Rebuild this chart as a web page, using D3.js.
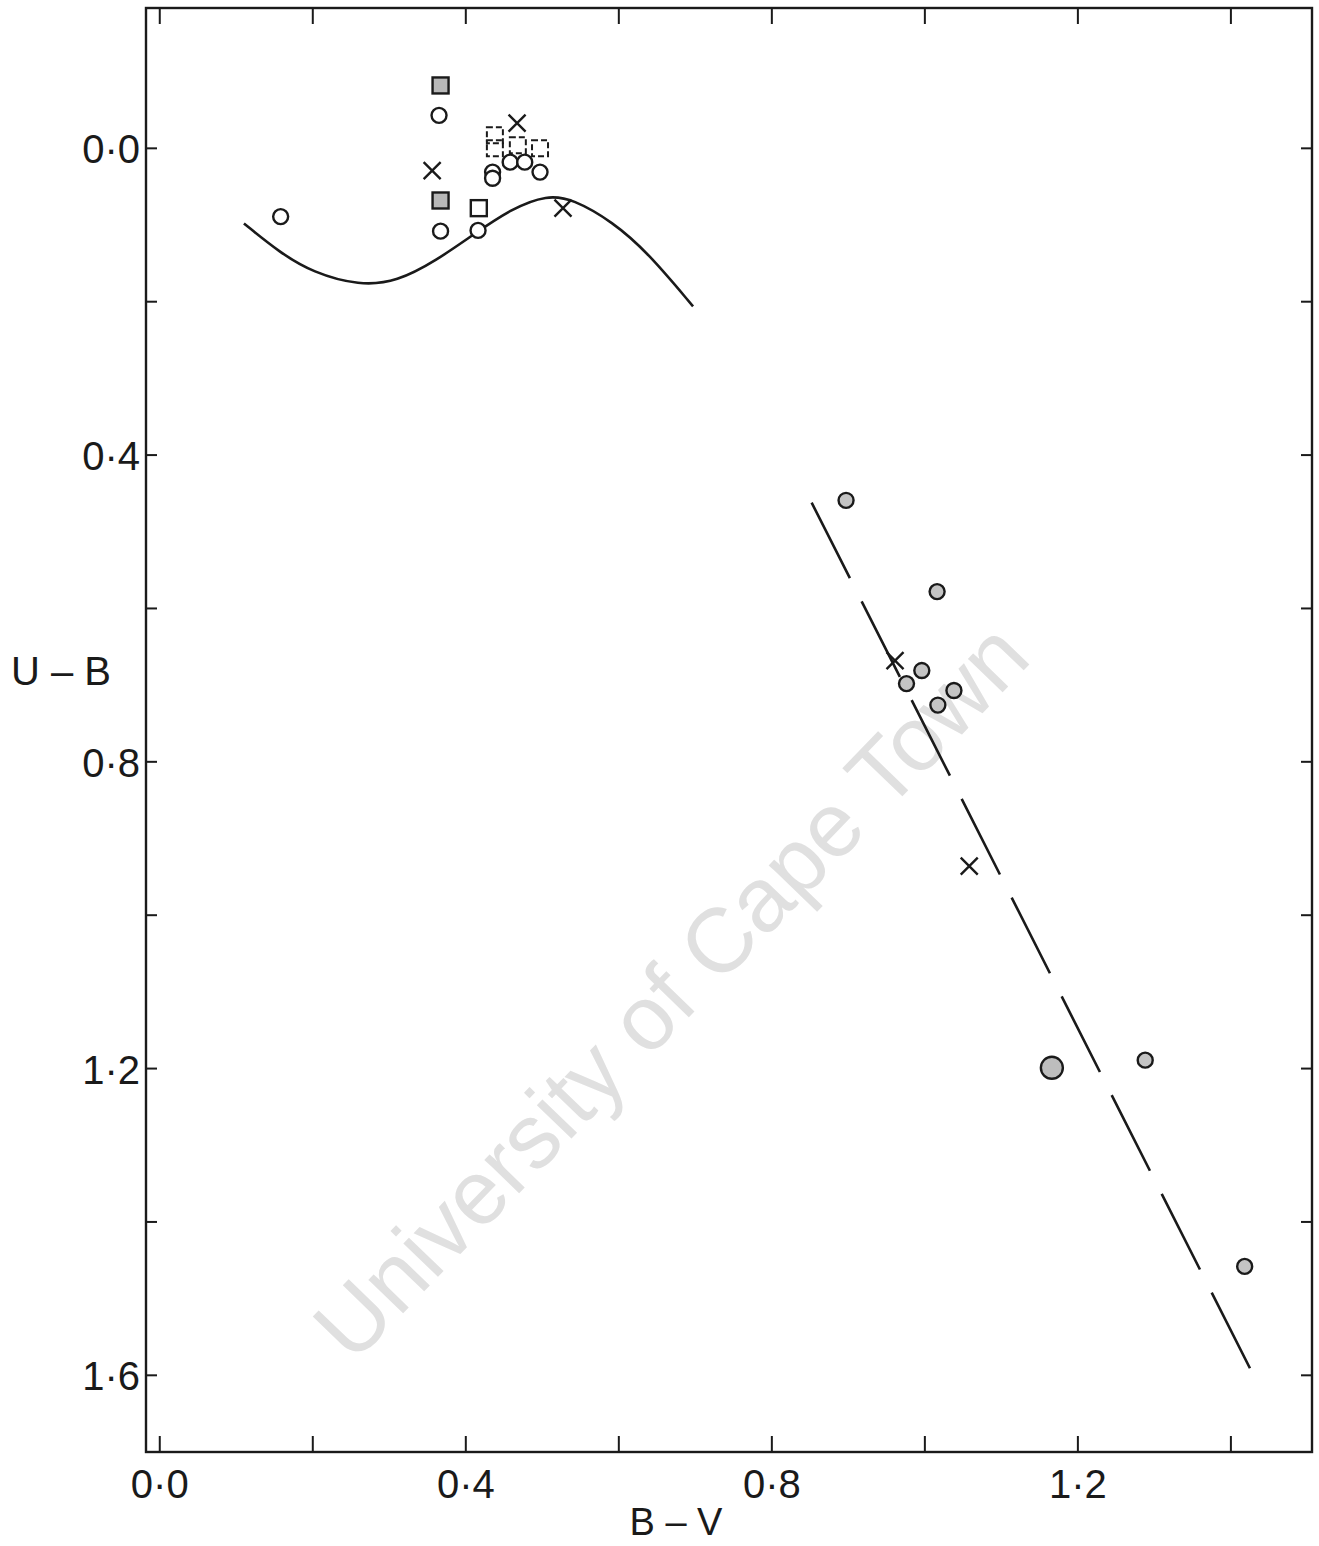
<!DOCTYPE html>
<html>
<head>
<meta charset="utf-8">
<script src="https://cdn.jsdelivr.net/npm/d3@7"></script>
<style>
  body { margin: 0; background: #fff; }
  svg { display: block; }
</style>
</head>
<body>
<script>
// ---- data (B-V, U-B) ----
var open_circles = [[0.158,0.089],[0.365,-0.043],[0.367,0.108],[0.416,0.107],
  [0.435,0.031],[0.435,0.039],[0.458,0.018],[0.477,0.018],[0.497,0.031]];
var hatched_circles = [[0.897,0.459],[1.016,0.578],[0.996,0.681],[0.976,0.698],
  [1.017,0.726],[1.038,0.707],[1.288,1.189],[1.418,1.458]];
var big_circles = [[1.166,1.199]];
var filled_squares = [[0.367,-0.082],[0.367,0.068]];
var open_squares = [[0.417,0.078]];
var dashed_squares = [[0.438,-0.017],[0.438,0.000],[0.468,-0.004],[0.497,0.000]];
var crosses = [[0.356,0.029],[0.467,-0.033],[0.527,0.078],[0.961,0.668],[1.058,0.936]];

// solid curve (two-colour relation)
var curve_pts = [[0.110,0.098],[0.157,0.136],[0.200,0.162],[0.261,0.179],[0.310,0.174],
  [0.362,0.146],[0.409,0.113],[0.461,0.078],[0.506,0.061],[0.540,0.066],
  [0.592,0.096],[0.637,0.135],[0.697,0.206]];
// dashed reddening line
var dash_pts = [[0.852,0.462],[1.425,1.591]];

var x_ticks = [0, 0.2, 0.4, 0.6, 0.8, 1.0, 1.2, 1.4];
var y_ticks = [0, 0.2, 0.4, 0.6, 0.8, 1.0, 1.2, 1.4, 1.6];
var x_labels = [0, 0.4, 0.8, 1.2];
var y_labels = [0, 0.4, 0.8, 1.2, 1.6];

var W = 1319, H = 1546;
var box = {l: 146, r: 1312, t: 8, b: 1452};

var x = d3.scaleLinear().domain([-0.018, 1.506]).range([box.l, box.r]);
var y = d3.scaleLinear().domain([-0.183, 1.700]).range([box.t, box.b]);

var fmt = function(v) { return d3.format(".1f")(v).replace(".", "\u00b7"); };

var svg = d3.select("body").append("svg")
  .attr("width", W).attr("height", H);

svg.append("rect").attr("width", W).attr("height", H).attr("fill", "#fff");

// watermark
svg.append("text")
  .attr("transform", "translate(676,996) rotate(-46)")
  .attr("text-anchor", "middle").attr("dominant-baseline", "middle")
  .style("font-family", "Liberation Sans, Arial, sans-serif")
  .style("font-size", "91px")
  .attr("fill", "#e0e0e0")
  .text("University of Cape Town");

var ink = "#1a1a1a";

// frame
svg.append("rect")
  .attr("x", box.l).attr("y", box.t)
  .attr("width", box.r - box.l).attr("height", box.b - box.t)
  .attr("fill", "none").attr("stroke", ink).attr("stroke-width", 2.4);

// inward ticks on all four sides
var tk = svg.append("g").attr("stroke", ink).attr("stroke-width", 2);
x_ticks.forEach(function(v) {
  tk.append("line").attr("x1", x(v)).attr("x2", x(v)).attr("y1", box.b).attr("y2", box.b - 16);
  tk.append("line").attr("x1", x(v)).attr("x2", x(v)).attr("y1", box.t).attr("y2", box.t + 16);
});
y_ticks.forEach(function(v) {
  tk.append("line").attr("x1", box.l).attr("x2", box.l + 11).attr("y1", y(v)).attr("y2", y(v));
  tk.append("line").attr("x1", box.r).attr("x2", box.r - 11).attr("y1", y(v)).attr("y2", y(v));
});

// tick labels
var lab = svg.append("g")
  .style("font-family", "Liberation Sans, Arial, sans-serif")
  .style("font-size", "40px").attr("fill", ink);
x_labels.forEach(function(v) {
  lab.append("text").attr("x", x(v)).attr("y", 1498)
    .attr("text-anchor", "middle").text(fmt(v));
});
y_labels.forEach(function(v) {
  lab.append("text").attr("x", 140).attr("y", y(v) + 15)
    .attr("text-anchor", "end").text(fmt(v));
});

// axis titles
lab.append("text").attr("x", 61).attr("y", 685).attr("text-anchor", "middle").text("U \u2013 B");
lab.append("text").attr("x", 676).attr("y", 1535).attr("text-anchor", "middle")
  .style("font-size", "38px").text("B \u2013 V");

// curves
var line = d3.line().x(function(d) { return x(d[0]); }).y(function(d) { return y(d[1]); });

svg.append("path").datum(curve_pts)
  .attr("d", line.curve(d3.curveBasis))
  .attr("fill", "none").attr("stroke", ink).attr("stroke-width", 2.6);

svg.append("path").datum(dash_pts)
  .attr("d", d3.line().x(function(d) { return x(d[0]); }).y(function(d) { return y(d[1]); }))
  .attr("fill", "none").attr("stroke", ink).attr("stroke-width", 2.6)
  .attr("stroke-dasharray", "84.7 26");

// markers
var pts = svg.append("g").attr("stroke", ink).attr("stroke-width", 2.4);

pts.selectAll(".oc").data(open_circles).enter().append("circle")
  .attr("cx", function(d) { return x(d[0]); }).attr("cy", function(d) { return y(d[1]); })
  .attr("r", 7.5).attr("fill", "#fff");

pts.selectAll(".hc").data(hatched_circles).enter().append("circle")
  .attr("cx", function(d) { return x(d[0]); }).attr("cy", function(d) { return y(d[1]); })
  .attr("r", 7.5).attr("fill", "#c4c4c4");

pts.selectAll(".bc").data(big_circles).enter().append("circle")
  .attr("cx", function(d) { return x(d[0]); }).attr("cy", function(d) { return y(d[1]); })
  .attr("r", 11).attr("fill", "#bdbdbd");

pts.selectAll(".fs").data(filled_squares).enter().append("rect")
  .attr("x", function(d) { return x(d[0]) - 8; }).attr("y", function(d) { return y(d[1]) - 8; })
  .attr("width", 16).attr("height", 16).attr("fill", "#b8b8b8");

pts.selectAll(".os").data(open_squares).enter().append("rect")
  .attr("x", function(d) { return x(d[0]) - 8; }).attr("y", function(d) { return y(d[1]) - 8; })
  .attr("width", 16).attr("height", 16).attr("fill", "none");

pts.selectAll(".ds").data(dashed_squares).enter().append("rect")
  .attr("x", function(d) { return x(d[0]) - 8; }).attr("y", function(d) { return y(d[1]) - 8; })
  .attr("width", 16).attr("height", 16).attr("fill", "none")
  .attr("stroke-width", 2).attr("stroke-dasharray", "6 3");

pts.selectAll(".cx").data(crosses).enter().append("path")
  .attr("d", function(d) {
    var cx = x(d[0]), cy = y(d[1]), s = 8.5;
    return "M" + (cx - s) + "," + (cy - s) + "L" + (cx + s) + "," + (cy + s) +
           "M" + (cx - s) + "," + (cy + s) + "L" + (cx + s) + "," + (cy - s);
  })
  .attr("fill", "none");
</script>
</body>
</html>
